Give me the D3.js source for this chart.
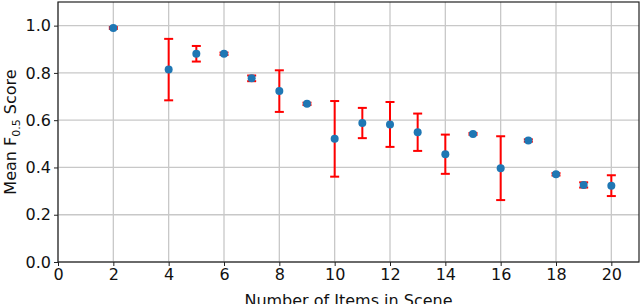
<!DOCTYPE html>
<html>
<head>
<meta charset="utf-8">
<script src="https://cdn.jsdelivr.net/npm/d3@7"></script>
<style>
  html, body { margin: 0; padding: 0; background: #fff; }
  svg { display: block; font-family: "DejaVu Sans", sans-serif; }
</style>
</head>
<body>
<div id="chart"></div>
<script>
// ---- data ------------------------------------------------------------
const items  = [2, 4, 5, 6, 7, 8, 9, 10, 11, 12, 13, 14, 15, 16, 17, 18, 19, 20];
const scores = [0.990, 0.814, 0.881, 0.881, 0.777, 0.723, 0.669, 0.521, 0.588,
                0.582, 0.549, 0.456, 0.542, 0.397, 0.514, 0.371, 0.326, 0.323];
const errors = [0.004, 0.130, 0.033, 0.005, 0.012, 0.088, 0.005, 0.160, 0.064,
                0.095, 0.079, 0.083, 0.004, 0.135, 0.005, 0.005, 0.011, 0.044];
const xTicks = [0, 2, 4, 6, 8, 10, 12, 14, 16, 18, 20];
const yTicks = [0.0, 0.2, 0.4, 0.6, 0.8, 1.0];

const W = 640, H = 304;
const margin = { top: 2, right: 1, bottom: 42, left: 58 };
const iw = W - margin.left - margin.right;
const ih = H - margin.top - margin.bottom;

const svg = d3.select('#chart').append('svg')
  .attr('width', W).attr('height', H);
const g = svg.append('g')
  .attr('transform', `translate(${margin.left},${margin.top})`);

const x = d3.scaleLinear().domain([0, 21]).range([0, iw]);
const y = d3.scaleLinear().domain([0, 1.1]).range([ih, 0]);

/* grid */
const gridCol = '#c8c8c8';
g.append('g').selectAll('line').data(xTicks).join('line')
  .attr('x1', d => x(d)).attr('x2', d => x(d))
  .attr('y1', 0).attr('y2', ih)
  .attr('stroke', gridCol).attr('stroke-width', 1.3);
g.append('g').selectAll('line').data(yTicks).join('line')
  .attr('y1', d => y(d)).attr('y2', d => y(d))
  .attr('x1', 0).attr('x2', iw)
  .attr('stroke', gridCol).attr('stroke-width', 1.3);

/* axes */
const xAxis = g.append('g')
  .attr('transform', `translate(0,${ih})`)
  .call(d3.axisBottom(x).tickValues(xTicks).tickSize(4).tickSizeOuter(0).tickPadding(3));
const yAxis = g.append('g')
  .call(d3.axisLeft(y).tickValues(yTicks).tickFormat(d3.format('.1f'))
    .tickSize(4).tickSizeOuter(0).tickPadding(3));

[xAxis, yAxis].forEach(a => {
  a.select('.domain').remove();
  a.selectAll('line').attr('stroke', '#222').attr('stroke-width', 1);
  a.selectAll('text').attr('fill', '#111')
    .style('font-size', '16px').style('font-family', '"DejaVu Sans", sans-serif');
});

/* frame */
g.append('rect')
  .attr('x', 0).attr('y', 0).attr('width', iw).attr('height', ih)
  .attr('fill', 'none').attr('stroke', '#222').attr('stroke-width', 1.2);

/* error bars */
const eb = g.append('g').attr('stroke', '#ff0000').attr('stroke-width', 2);
const cap = 4.5;
items.forEach((d, i) => {
  const x0 = x(d), lo = y(scores[i] - errors[i]), hi = y(scores[i] + errors[i]);
  eb.append('line').attr('x1', x0).attr('x2', x0).attr('y1', lo).attr('y2', hi);
  eb.append('line').attr('x1', x0 - cap).attr('x2', x0 + cap).attr('y1', lo).attr('y2', lo);
  eb.append('line').attr('x1', x0 - cap).attr('x2', x0 + cap).attr('y1', hi).attr('y2', hi);
});

/* points */
g.append('g').selectAll('circle').data(items).join('circle')
  .attr('cx', d => x(d))
  .attr('cy', (d, i) => y(scores[i]))
  .attr('r', 4)
  .attr('fill', '#1f77b4');

/* axis labels */
svg.append('text')
  .attr('x', margin.left + iw / 2).attr('y', H + 2)
  .attr('text-anchor', 'middle')
  .style('font-size', '16px').attr('fill', '#111')
  .text('Number of Items in Scene');

const yl = svg.append('text')
  .attr('transform', `translate(16,${margin.top + ih / 2}) rotate(-90)`)
  .attr('text-anchor', 'middle')
  .style('font-size', '16px').attr('fill', '#111');
yl.append('tspan').text('Mean F');
yl.append('tspan').attr('dy', 4).style('font-size', '11px').text('0.5');
yl.append('tspan').attr('dy', -4).text(' Score');
</script>
</body>
</html>
